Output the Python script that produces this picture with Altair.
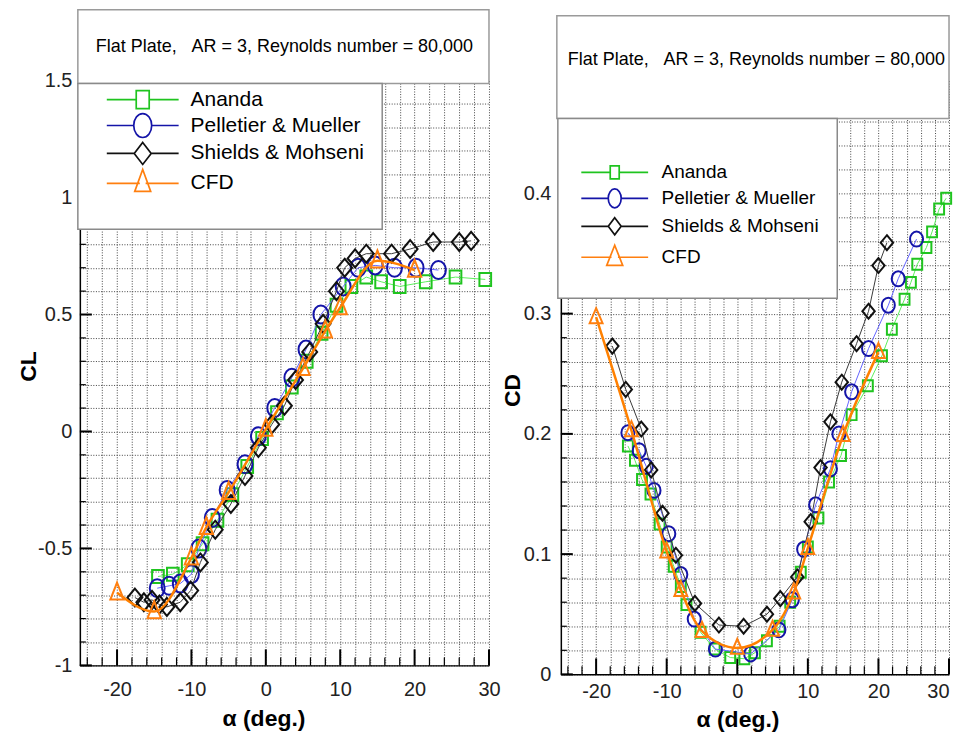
import altair as alt
import pandas as pd

# ---------------- data ----------------
SERIES = ["Ananda", "Pelletier & Mueller", "Shields & Mohseni", "CFD"]
MARKER_COLORS = ["#1fc41f", "#1414a8", "#111111", "#ff7f0f"]
LINE_COLORS = ["#5cf05c", "#6464ff", "#3a3a3a", "#ff8000"]
LINE_WIDTHS = [1.0, 1.0, 1.0, 2.5]
TITLE_TEXT = "Flat Plate,\u00a0\u00a0\u00a0AR = 3, Reynolds number = 80,000"
X_TITLE = "α (deg.)"

# Lift coefficient (left panel)
cl_ananda_alpha = [-14.5, -12.5, -10.5, -8.5, -6.5, -4.5, -2.5, -0.5, 1.5, 3.5, 5.5, 7.5, 9.5,
                   11.5, 13.5, 15.5, 18, 21.5, 25.5, 29.5]
cl_ananda = [-0.62, -0.61, -0.57, -0.48, -0.38, -0.27, -0.15, -0.03, 0.08, 0.19, 0.30, 0.42, 0.54,
             0.62, 0.66, 0.64, 0.62, 0.64, 0.66, 0.65]
cl_pell_alpha = [-14.6, -13, -11.5, -10, -9, -7.2, -5.2, -2.8, -1, 1.2, 3.5, 5.4, 7.4, 10.4, 12.4,
                 14.7, 17.3, 20.2, 23.2]
cl_pell = [-0.67, -0.66, -0.65, -0.61, -0.50, -0.37, -0.25, -0.14, -0.02, 0.10, 0.23, 0.35, 0.50,
           0.62, 0.70, 0.71, 0.70, 0.70, 0.69]
cl_shields_alpha = [-17.6, -16.4, -15.3, -14.3, -13.3, -11.5, -10.1, -8.8, -6.8, -4.7, -2.8, -1,
                    0.8, 2.5, 4, 5.9, 7.7, 9.5, 10.6, 12, 13.5, 16.9, 19.4, 22.5, 26, 27.6]
cl_shields = [-0.71, -0.73, -0.72, -0.74, -0.75, -0.73, -0.68, -0.56, -0.42, -0.31, -0.19, -0.07,
              0.03, 0.11, 0.22, 0.34, 0.46, 0.60, 0.70, 0.74, 0.76, 0.76, 0.78, 0.81, 0.81, 0.815]
cl_cfd_alpha = [-20, -15, -10, -8, -5, 0, 5, 8, 10, 15, 20]
cl_cfd = [-0.69, -0.77, -0.54, -0.41, -0.26, 0.01, 0.27, 0.43, 0.53, 0.73, 0.69]

# Drag coefficient (right panel)
cd_ananda_alpha = [-15.5, -14.5, -13.5, -12.3, -11, -10, -9, -8, -7.2, -5.2, -3.2, -1, 1, 2.5, 4.2,
                   6, 7.5, 9, 10, 11.5, 13, 14.7, 16.2, 18.5, 20.5, 21.9, 23.7, 24.6, 25.5, 26.8,
                   27.6, 28.6, 29.6]
cd_ananda = [0.19, 0.178, 0.162, 0.15, 0.125, 0.106, 0.09, 0.073, 0.058, 0.035, 0.021, 0.014, 0.013,
             0.018, 0.028, 0.04, 0.06, 0.085, 0.106, 0.13, 0.16, 0.182, 0.216, 0.24, 0.265, 0.287,
             0.312, 0.326, 0.341, 0.355, 0.368, 0.387, 0.396]
cd_pell_alpha = [-15.5, -13.9, -12.9, -11.8, -9.7, -8, -6.1, -3.1, 1.9, 5.9, 7.8, 9.4, 11.1, 13.2,
                 14.4, 16.2, 18.6, 21.4, 22.8, 25.4]
cd_pell = [0.201, 0.186, 0.173, 0.153, 0.117, 0.083, 0.046, 0.021, 0.017, 0.037, 0.062, 0.104,
           0.141, 0.171, 0.200, 0.235, 0.271, 0.307, 0.329, 0.362]
cd_shields_alpha = [-17.7, -15.8, -13.6, -12.2, -10.6, -8.7, -6, -2.6, 0.9, 4.2, 6.1, 8.5, 10.4,
                    11.8, 13.2, 14.8, 16.9, 18.6, 20, 21.2]
cd_shields = [0.273, 0.237, 0.204, 0.170, 0.134, 0.099, 0.059, 0.041, 0.040, 0.050, 0.063, 0.081,
              0.127, 0.172, 0.210, 0.243, 0.275, 0.302, 0.340, 0.359]
cd_cfd_alpha = [-20, -15, -10, -8, -5, 0, 5, 8, 10, 15, 20]
cd_cfd = [0.297, 0.203, 0.102, 0.070, 0.036, 0.022, 0.037, 0.068, 0.105, 0.199, 0.268]

# axis tick / grid values
X_DOMAIN = [-25, 30]
X_GRID = list(range(-24, 31, 2))
X_MAJOR = [-20, -10, 0, 10, 20, 30]
CL_GRID = [round(-1 + 0.1 * k, 1) for k in range(26)]
CL_MAJOR = [-1, -0.5, 0, 0.5, 1, 1.5]
CD_GRID = [round(0.02 * k, 2) for k in range(25)]
CD_MAJOR = [0, 0.1, 0.2, 0.3, 0.4]

TICK_FONT = "Liberation Sans, Arial, sans-serif"
TEXT_FONT = "Liberation Sans, Arial, sans-serif"


def ellipse(rx, ry):
    return f"M{-rx},0A{rx},{ry},0,1,1,{rx},0A{rx},{ry},0,1,1,{-rx},0Z"


# plot marker shapes (slightly tall, as in the source)
LEFT_SHAPES = ["M-0.9,-1H0.9V1H-0.9Z", ellipse(0.83, 1), "M0,-1L0.83,0L0,1L-0.83,0Z",
               "M0,-1L0.65,0.65L-0.65,0.65Z"]
LEFT_SIZES = [169, 324, 324, 424]
RIGHT_SHAPES = ["M-0.9,-1H0.9V1H-0.9Z", ellipse(0.87, 1), "M0,-1L0.83,0L0,1L-0.83,0Z",
                "M0,-1L0.71,0.65L-0.71,0.65Z"]
RIGHT_SIZES = [121, 225, 225, 331]


def legend_paths(L, sq, el, di, tr):
    def line(g):
        return f"M{-L},0H{-g}M{g},0H{L}"
    return [
        line(sq[0]) + f"M{-sq[0]},{-sq[1]}H{sq[0]}V{sq[1]}H{-sq[0]}Z",
        line(el[0]) + ellipse(el[0], el[1]),
        line(di[0]) + f"M0,{-di[1]}L{di[0]},0L0,{di[1]}L{-di[0]},0Z",
        line(tr[2] * tr[1] / (tr[0] + tr[1])) + f"M0,{-tr[0]}L{tr[2]},{tr[1]}L{-tr[2]},{tr[1]}Z",
    ]


LEFT_LEG = legend_paths(3.6, (0.65, 0.9), (0.9, 1.2), (0.85, 1.1), (1.4, 0.8, 0.8))
RIGHT_LEG = legend_paths(3.72, (0.5, 0.72), (0.72, 1.05), (0.72, 0.95), (1.33, 0.9, 0.89))


def panel(cfg, alphas, values):
    W, H = cfg["w"], cfg["h"]

    def style(lp):
        return dict(labelFont=TICK_FONT, labelFontSize=cfg["lfs"], labelColor="#222",
                    labelPadding=lp, labelOverlap=False, ticks=False,
                    domainColor="black", domainWidth=1.5, grid=True, gridColor="#444",
                    gridDash=[1, 1.6], gridWidth=1, titleFont=TEXT_FONT, titleFontSize=23,
                    titleFontWeight="bold", titleColor="black", titleBaseline="middle",
                    titleAlign="center")

    def X(field):
        return alt.X(f"{field}:Q", scale=alt.Scale(domain=X_DOMAIN, nice=False, zero=False),
                     axis=alt.Axis(values=X_GRID, labelFlush=cfg["xflush"],
                                   labelExpr="datum.value % 10 === 0 ? '' + datum.value : ''",
                                   title=X_TITLE, titleX=cfg["xtx"], titleY=cfg["xty"],
                                   **style(cfg["xlp"])))

    def Y(field):
        return alt.Y(f"{field}:Q", scale=alt.Scale(domain=cfg["ydom"], nice=False, zero=False),
                     axis=alt.Axis(values=cfg["ygrid"], labelExpr=cfg["ylexpr"], labelFlush=False,
                                   title=cfg["ytitle"], titleX=cfg["ytx"], titleY=cfg["yty"],
                                   **style(cfg["ylp"])))

    layers = []
    ymin = [v for v in cfg["ygrid"] if v not in cfg["ymaj"]]
    xmin = [v for v in X_GRID if v not in X_MAJOR]
    for vals, ch, ln, sw in [(ymin, "y", 6, 1.2), (cfg["ymaj"], "y", 12, 2),
                             (xmin, "x", 8, 1.2), (X_MAJOR, "x", 16, 2)]:
        d = pd.DataFrame({"v": vals})
        if ch == "y":
            layers.append(alt.Chart(d).mark_rule(color="black", strokeWidth=sw).encode(
                y=Y("v"), x=alt.value(0), x2=alt.value(ln)))
        else:
            layers.append(alt.Chart(d).mark_rule(color="black", strokeWidth=sw).encode(
                x=X("v"), y=alt.value(H), y2=alt.value(H - ln)))

    rows = []
    for i, name in enumerate(SERIES):
        d = pd.DataFrame({"alpha": alphas[i], "val": values[i]})
        for a, v in zip(alphas[i], values[i]):
            rows.append({"alpha": a, "val": v, "series": name})
        layers.append(alt.Chart(d).mark_line(
            color=LINE_COLORS[i], strokeWidth=LINE_WIDTHS[i],
            interpolate="monotone" if name == "CFD" else "linear").encode(x=X("alpha"), y=Y("val")))
        layers.append(alt.Chart(d).mark_point(
            shape=cfg["shapes"][i], size=cfg["sizes"][i], filled=False, color=MARKER_COLORS[i],
            strokeWidth=2, opacity=1).encode(x=X("alpha"), y=Y("val")))

    one = pd.DataFrame({"t": [TITLE_TEXT]})
    tb, lb = cfg["tbox"], cfg["lbox"]
    layers.append(alt.Chart(one).mark_rect(fill="white", stroke="#9a9a9a", strokeWidth=1.5).encode(
        x=alt.value(tb[0]), x2=alt.value(tb[1]), y=alt.value(tb[2]), y2=alt.value(tb[3])))
    layers.append(alt.Chart(one).mark_rect(fill="white", stroke="#8a8a8a", strokeWidth=1.5).encode(
        x=alt.value(lb[0]), x2=alt.value(lb[1]), y=alt.value(lb[2]), y2=alt.value(lb[3])))
    layers.append(alt.Chart(one).mark_text(font=TEXT_FONT, fontSize=18, color="black",
                                          align="center", baseline="middle").encode(
        text="t:N", x=alt.value(cfg["ttxt"][0]), y=alt.value(cfg["ttxt"][1])))

    leg = alt.Legend(title=None, orient="none", legendX=cfg["leg"][0], legendY=cfg["leg"][1],
                     labelFont=TEXT_FONT, labelFontSize=cfg["legfs"], labelColor="black",
                     labelOffset=cfg["legoff"], rowPadding=cfg["legrow"],
                     symbolSize=cfg["legsize"], symbolStrokeWidth=1.7, padding=0,
                     labelLimit=500, symbolOpacity=1)
    all_df = pd.DataFrame(rows)
    layers.append(alt.Chart(all_df).transform_filter("false").mark_point(
        filled=False, opacity=1, strokeWidth=1.7).encode(
        x=X("alpha"), y=Y("val"),
        color=alt.Color("series:N", scale=alt.Scale(domain=SERIES, range=MARKER_COLORS), legend=leg),
        shape=alt.Shape("series:N", scale=alt.Scale(domain=SERIES, range=cfg["legpaths"]),
                        legend=leg)))
    return alt.layer(*layers).properties(width=W, height=H)


left_cfg = dict(
    w=410, h=586, ydom=[-1, 1.5], ygrid=CL_GRID, ymaj=CL_MAJOR,
    ylexpr="abs(datum.value*2 - round(datum.value*2)) < 1e-6 ? '' + datum.value : ''",
    ytitle="CL", ytx=-51, yty=286, ylp=8, xtx=184, xty=53, xlp=14, lfs=20, xflush=False,
    shapes=LEFT_SHAPES, sizes=LEFT_SIZES,
    tbox=(-2, 410, -71, 3), lbox=(-2, 303, 3, 149), ttxt=(205, -34),
    leg=(52, 8), legfs=21, legoff=37, legrow=-3, legsize=400, legpaths=LEFT_LEG)

right_cfg = dict(
    w=389, h=595, ydom=[0, 0.4938], ygrid=CD_GRID, ymaj=CD_MAJOR,
    ylexpr="abs(datum.value*10 - round(datum.value*10)) < 1e-6 ? '' + datum.value : ''",
    ytitle="CD", ytx=-48, yty=310, ylp=10, xtx=177, xty=45, xlp=7, lfs=20, xflush=True,
    shapes=RIGHT_SHAPES, sizes=RIGHT_SIZES,
    tbox=(-4, 389, -65, 38), lbox=(-3, 277, 38, 218), ttxt=(196, -21),
    leg=(44, 82), legfs=19, legoff=37, legrow=3, legsize=324, legpaths=RIGHT_LEG)

left = panel(left_cfg, [cl_ananda_alpha, cl_pell_alpha, cl_shields_alpha, cl_cfd_alpha],
             [cl_ananda, cl_pell, cl_shields, cl_cfd])
right = panel(right_cfg, [cd_ananda_alpha, cd_pell_alpha, cd_shields_alpha, cd_cfd_alpha],
              [cd_ananda, cd_pell, cd_shields, cd_cfd])

chart = alt.hconcat(left, right, spacing=72, bounds="flush").resolve_scale(
    color="independent", shape="independent").properties(
    padding={"left": 10, "top": 0, "right": 0, "bottom": 0}, background="white").configure_view(stroke=None)

chart.save("out.html", embed_options={"renderer": "svg", "actions": False})
